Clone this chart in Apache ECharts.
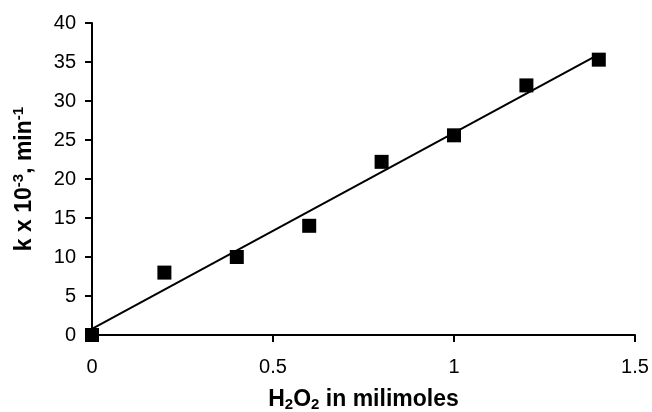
<!DOCTYPE html>
<html><head><meta charset="utf-8">
<script src="https://cdn.jsdelivr.net/npm/echarts@6/dist/echarts.min.js"></script>
<style>html,body{margin:0;padding:0;background:#fff}#c{width:652px;height:412px}</style>
</head><body><div id="c"></div>
<script>
const xValues = [0, 0.2, 0.4, 0.6, 0.8, 1.0, 1.2, 1.4];
const yValues = [0, 8, 10, 14, 22.2, 25.6, 32, 35.3];
const xTicks = [0, 0.5, 1, 1.5];
const yTicks = [0, 5, 10, 15, 20, 25, 30, 35, 40];

// least-squares trend line through the data
const n = xValues.length;
const mx = xValues.reduce((a,b)=>a+b,0)/n;
const my = yValues.reduce((a,b)=>a+b,0)/n;
let sxy=0, sxx=0;
for (let i=0;i<n;i++){ sxy+=(xValues[i]-mx)*(yValues[i]-my); sxx+=(xValues[i]-mx)**2; }
const slope = sxy/sxx, icpt = my - slope*mx;
const xs0 = xValues[0], xs1 = xValues[n-1];
const trend = [[xs0, icpt+slope*xs0],[xs1, icpt+slope*xs1]];

const font = 'Liberation Sans, Arial, sans-serif';
const chart = echarts.init(document.getElementById('c'));
chart.setOption({
  animation:false,
  backgroundColor:'#fff',
  grid:{left:92,right:17,top:23,bottom:77,outerBoundsMode:'none',containLabel:false},
  xAxis:{type:'value',min:0,max:1.5,interval:0.5,
    axisLine:{lineStyle:{color:'#000',width:2}},
    axisTick:{show:true,length:7,lineStyle:{color:'#000',width:2}},
    splitLine:{show:false},
    axisLabel:{color:'#000',fontSize:20,fontFamily:font,margin:22,
      formatter:v=>xTicks.includes(v)?String(v):''},
    name:'{b|H}{s|2}{b|O}{s|2}{b| in milimoles}',nameLocation:'middle',nameGap:52,
    nameTextStyle:{rich:{
      b:{fontSize:23,fontWeight:'bold',fontFamily:font,color:'#000'},
      s:{fontSize:15,fontWeight:'bold',fontFamily:font,color:'#000',padding:[10,0,0,0]}}}
  },
  yAxis:{type:'value',min:0,max:40,interval:5,
    axisLine:{show:true,lineStyle:{color:'#000',width:2}},
    axisTick:{show:true,length:7,lineStyle:{color:'#000',width:2}},
    splitLine:{show:false},
    axisLabel:{color:'#000',fontSize:20,fontFamily:font,margin:16,
      formatter:v=>yTicks.includes(v)?String(v):''},
    name:'{b|k x 10}{s|-3}{b|, min}{s|-1}',nameLocation:'middle',nameGap:54,nameRotate:90,
    nameTextStyle:{rich:{
      b:{fontSize:23,fontWeight:'bold',fontFamily:font,color:'#000'},
      s:{fontSize:15,fontWeight:'bold',fontFamily:font,color:'#000',padding:[0,0,12,0]}}}
  },
  series:[
    {type:'line',data:trend,symbol:'none',lineStyle:{color:'#000',width:2},z:2},
    {type:'scatter',data:xValues.map((x,i)=>[x,yValues[i]]),symbol:'rect',symbolSize:14,
      itemStyle:{color:'#000',opacity:1},z:3}
  ]
});
</script></body></html>
